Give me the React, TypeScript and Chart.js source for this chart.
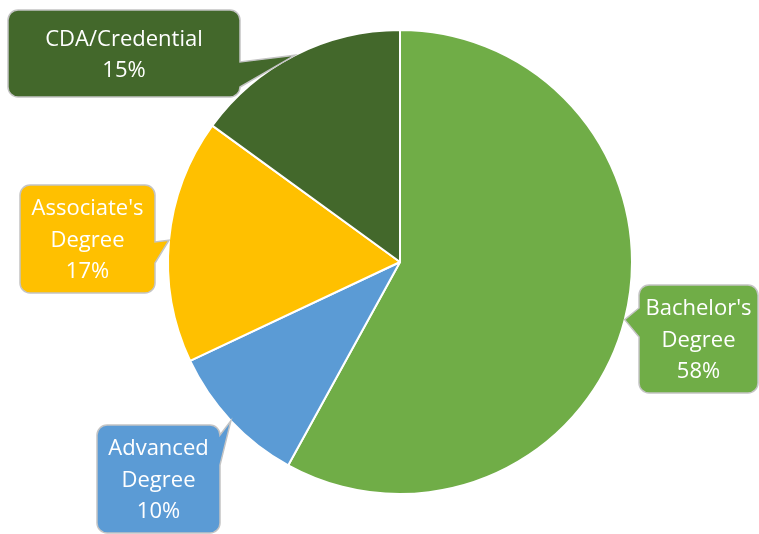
import React, { useEffect, useRef } from "react";
import { Chart, registerables } from "chart.js";

Chart.register(...registerables);

const categories = ["Bachelor's Degree", "Advanced Degree", "Associate's Degree", "CDA/Credential"];
const values = [58, 10, 17, 15];
const sliceColors = ["#70AD47", "#5B9BD5", "#FFC000", "#43682B"];

// callout box geometry (style, not data)
const callouts = [
  { x: 639, y: 285, w: 119, h: 108, side: "left", a: 308, b: 337 },
  { x: 97, y: 425, w: 123, h: 108, side: "right", a: 435, b: 465 },
  { x: 20, y: 185, w: 135, h: 108, side: "right", a: 242, b: 263 },
  { x: 8, y: 10, w: 232, h: 87, side: "right", a: 62, b: 87 },
];

function calloutPath(ctx: CanvasRenderingContext2D, c: any, tx: number, ty: number) {
  const r = 10;
  const x = c.x, y = c.y, x2 = c.x + c.w, y2 = c.y + c.h;
  ctx.beginPath();
  ctx.moveTo(x + r, y);
  ctx.lineTo(x2 - r, y);
  ctx.arcTo(x2, y, x2, y + r, r);
  if (c.side === "right") {
    ctx.lineTo(x2, c.a);
    ctx.lineTo(tx, ty);
    ctx.lineTo(x2, c.b);
  }
  ctx.lineTo(x2, y2 - r);
  ctx.arcTo(x2, y2, x2 - r, y2, r);
  ctx.lineTo(x + r, y2);
  ctx.arcTo(x, y2, x, y2 - r, r);
  if (c.side === "left") {
    ctx.lineTo(x, c.b);
    ctx.lineTo(tx, ty);
    ctx.lineTo(x, c.a);
  }
  ctx.lineTo(x, y + r);
  ctx.arcTo(x, y, x + r, y, r);
  ctx.closePath();
}

const calloutPlugin = {
  id: "callouts",
  afterDraw(chart: any) {
    const ctx: CanvasRenderingContext2D = chart.ctx;
    const meta = chart.getDatasetMeta(0);
    const total = values.reduce((s, v) => s + v, 0);
    meta.data.forEach((arc: any, i: number) => {
      const { x, y, startAngle, endAngle, outerRadius } = arc.getProps(
        ["x", "y", "startAngle", "endAngle", "outerRadius"],
        true
      );
      const mid = (startAngle + endAngle) / 2;
      const tx = x + Math.cos(mid) * outerRadius;
      const ty = y + Math.sin(mid) * outerRadius;
      const c = callouts[i];
      ctx.save();
      calloutPath(ctx, c, tx, ty);
      ctx.fillStyle = sliceColors[i];
      ctx.fill();
      ctx.lineWidth = 1.5;
      ctx.strokeStyle = "#C4C4C4";
      ctx.stroke();
      const lines = categories[i].split(" ").concat([Math.round((values[i] / total) * 100) + "%"]);
      ctx.fillStyle = "#FFFFFF";
      ctx.font = '22px "Open Sans"';
      ctx.textAlign = "center";
      ctx.textBaseline = "middle";
      const lh = 31.5;
      const cx = c.x + c.w / 2;
      const cy = c.y + c.h / 2 + 1.5;
      lines.forEach((t, k) => {
        ctx.fillText(t, cx, cy + (k - (lines.length - 1) / 2) * lh);
      });
      ctx.restore();
    });
  },
};

export default function App() {
  const ref = useRef<HTMLCanvasElement>(null);
  useEffect(() => {
    document.body.style.margin = "0";
    const chart = new Chart(ref.current!, {
      type: "pie",
      data: {
        labels: categories,
        datasets: [
          {
            data: values,
            backgroundColor: sliceColors,
            borderColor: "#FFFFFF",
            borderWidth: 2,
          },
        ],
      },
      options: {
        responsive: false,
        animation: false,
        layout: { padding: { top: 29, bottom: 39, left: 41, right: 0 } },
        plugins: {
          legend: { display: false },
          tooltip: { enabled: false },
        },
      },
      plugins: [calloutPlugin],
    });
    return () => chart.destroy();
  }, []);
  return (
    <div style={{ width: 759, height: 534, background: "#fff" }}>
      <canvas ref={ref} width={759} height={534} />
    </div>
  );
}
